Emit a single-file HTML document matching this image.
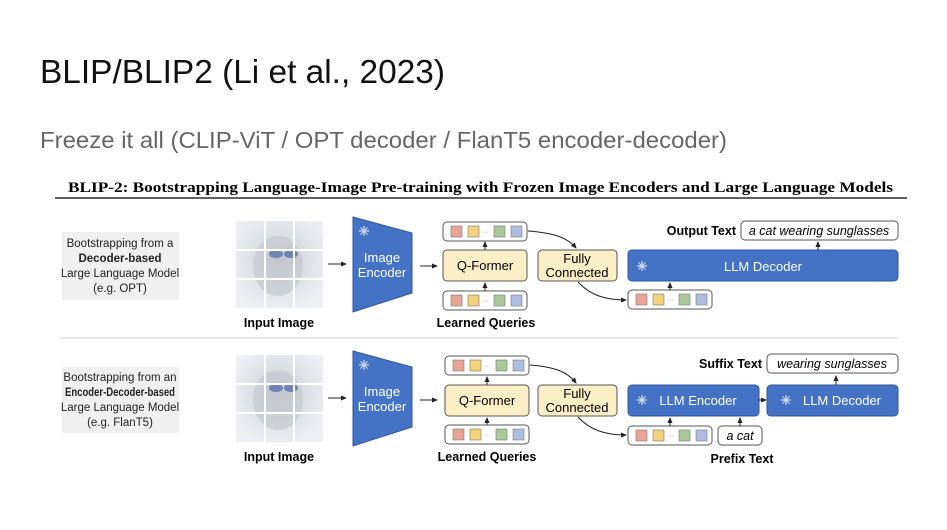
<!DOCTYPE html>
<html><head><meta charset="utf-8"><style>
body{margin:0;background:#fff;width:947px;height:525px;overflow:hidden;font-family:"Liberation Sans",sans-serif}
</style></head><body>
<svg width="947" height="525" viewBox="0 0 947 525" xmlns="http://www.w3.org/2000/svg" font-family="Liberation Sans, sans-serif">
<defs>
<radialGradient id="cat" cx="0.5" cy="0.45" r="0.6"><stop offset="0" stop-color="#b9bcc4"/><stop offset="0.45" stop-color="#d9dce2"/><stop offset="1" stop-color="#eef0f4"/></radialGradient>
<marker id="ah" markerWidth="6" markerHeight="6" refX="5" refY="3" orient="auto"><path d="M0,0.5 L6,3 L0,5.5z" fill="#222"/></marker>
<g id="tok"><rect x="0" y="0" width="84" height="19" rx="4" fill="#fff" stroke="#555"/>
<rect x="8" y="4" width="11" height="11" fill="#e9a593" stroke="#777" stroke-width="0.6"/>
<rect x="25" y="4" width="11" height="11" fill="#f2d27a" stroke="#777" stroke-width="0.6"/>
<text x="39" y="12" font-size="7" fill="#888">···</text>
<rect x="51" y="4" width="11" height="11" fill="#a9c99a" stroke="#777" stroke-width="0.6"/>
<rect x="68" y="4" width="11" height="11" fill="#aebde0" stroke="#777" stroke-width="0.6"/></g>
<g id="img"><rect x="0" y="0" width="87" height="87" fill="url(#cat)"/>
<ellipse cx="42" cy="45" rx="25" ry="30" fill="#c6c9d0" opacity="0.7"/>
<ellipse cx="40" cy="33" rx="7" ry="4" fill="#6f86b5"/><ellipse cx="55" cy="33" rx="7" ry="4" fill="#6f86b5"/>
<path d="M29,0V87M58,0V87M0,29H87M0,58H87" stroke="#fff" stroke-width="2"/></g>
<g id="snow" stroke="#cfdaf0" stroke-width="1.2"><path d="M-5,0H5M0,-5V5M-3.5,-3.5L3.5,3.5M-3.5,3.5L3.5,-3.5"/></g>
</defs>
<text x="40" y="83" font-size="33" fill="#111" textLength="405" lengthAdjust="spacingAndGlyphs">BLIP/BLIP2 (Li et al., 2023)</text>
<text x="40" y="148" font-size="23.5" fill="#666" textLength="687" lengthAdjust="spacingAndGlyphs">Freeze it all (CLIP-ViT / OPT decoder / FlanT5 encoder-decoder)</text>
<text x="68" y="192" font-size="15" font-weight="bold" font-family="Liberation Serif, serif" fill="#000" textLength="825" lengthAdjust="spacingAndGlyphs">BLIP-2: Bootstrapping Language-Image Pre-training with Frozen Image Encoders and Large Language Models</text>
<line x1="55" y1="198" x2="907" y2="198" stroke="#000" stroke-width="1.3"/>

<!-- Row 1 -->
<rect x="62" y="232" width="117" height="68" fill="#f0f0f0"/>
<g font-size="11.5" text-anchor="middle" fill="#222"><text x="120" y="247">Bootstrapping from a</text><text x="120" y="262" font-weight="bold">Decoder-based</text><text x="120" y="277">Large Language Model</text><text x="120" y="292">(e.g. OPT)</text></g>
<use href="#img" x="236" y="221"/>
<text x="279" y="327" font-size="12.5" font-weight="bold" text-anchor="middle">Input Image</text>
<line x1="328" y1="264" x2="346" y2="264" stroke="#222" marker-end="url(#ah)"/>
<path d="M353,217 L412,233 L412,293 L353,312Z" fill="#4472c4" stroke="#2f56a0"/>
<use href="#snow" x="364" y="231"/>
<text x="382" y="262" font-size="13" fill="#fff" text-anchor="middle">Image</text><text x="382" y="277" font-size="13" fill="#fff" text-anchor="middle">Encoder</text>
<line x1="420" y1="266" x2="437" y2="266" stroke="#222" marker-end="url(#ah)"/>
<use href="#tok" x="443" y="222"/>
<line x1="485" y1="250" x2="485" y2="242" stroke="#222" marker-end="url(#ah)"/>
<rect x="443" y="250" width="84" height="31" rx="4" fill="#fcefc8" stroke="#555"/>
<text x="485" y="270" font-size="13" text-anchor="middle">Q-Former</text>
<line x1="485" y1="291" x2="485" y2="283" stroke="#222" marker-end="url(#ah)"/>
<use href="#tok" x="443" y="291"/>
<text x="486" y="327" font-size="12.5" font-weight="bold" text-anchor="middle">Learned Queries</text>
<rect x="538" y="250" width="79" height="31" rx="4" fill="#fcefc8" stroke="#555"/>
<text x="577" y="263" font-size="13" text-anchor="middle">Fully</text><text x="577" y="277" font-size="13" text-anchor="middle">Connected</text>
<path d="M528,231 C555,233 568,238 576,248" fill="none" stroke="#222" marker-end="url(#ah)"/>
<path d="M578,282 C590,295 605,300 626,300" fill="none" stroke="#222" marker-end="url(#ah)"/>
<rect x="628" y="250" width="270" height="31" rx="4" fill="#4472c4" stroke="#2f56a0"/>
<use href="#snow" x="642" y="266"/>
<text x="763" y="271" font-size="13" fill="#fff" text-anchor="middle">LLM Decoder</text>
<use href="#tok" x="628" y="290"/>
<line x1="670" y1="290" x2="670" y2="283" stroke="#222" marker-end="url(#ah)"/>
<line x1="818" y1="250" x2="818" y2="242" stroke="#222" marker-end="url(#ah)"/>
<rect x="741" y="221" width="157" height="19" rx="4" fill="#fff" stroke="#555"/>
<text x="819" y="235" font-size="12.5" font-style="italic" text-anchor="middle">a cat wearing sunglasses</text>
<text x="736" y="235" font-size="12.5" font-weight="bold" text-anchor="end">Output Text</text>

<line x1="60" y1="338" x2="898" y2="338" stroke="#e4e4e4" stroke-width="1.5"/>

<!-- Row 2 -->
<rect x="62" y="367" width="117" height="66" fill="#f0f0f0"/>
<g font-size="11.5" text-anchor="middle" fill="#222"><text x="120" y="381">Bootstrapping from an</text><text x="120" y="396" font-weight="bold" textLength="110" lengthAdjust="spacingAndGlyphs">Encoder-Decoder-based</text><text x="120" y="411">Large Language Model</text><text x="120" y="426">(e.g. FlanT5)</text></g>
<use href="#img" x="236" y="355"/>
<text x="279" y="461" font-size="12.5" font-weight="bold" text-anchor="middle">Input Image</text>
<line x1="328" y1="398" x2="346" y2="398" stroke="#222" marker-end="url(#ah)"/>
<path d="M353,351 L412,367 L412,427 L353,446Z" fill="#4472c4" stroke="#2f56a0"/>
<use href="#snow" x="364" y="365"/>
<text x="382" y="396" font-size="13" fill="#fff" text-anchor="middle">Image</text><text x="382" y="411" font-size="13" fill="#fff" text-anchor="middle">Encoder</text>
<line x1="420" y1="400" x2="437" y2="400" stroke="#222" marker-end="url(#ah)"/>
<use href="#tok" x="445" y="356"/>
<line x1="487" y1="385" x2="487" y2="377" stroke="#222" marker-end="url(#ah)"/>
<rect x="445" y="385" width="84" height="31" rx="4" fill="#fcefc8" stroke="#555"/>
<text x="487" y="405" font-size="13" text-anchor="middle">Q-Former</text>
<line x1="487" y1="425" x2="487" y2="418" stroke="#222" marker-end="url(#ah)"/>
<use href="#tok" x="445" y="425"/>
<text x="487" y="461" font-size="12.5" font-weight="bold" text-anchor="middle">Learned Queries</text>
<rect x="538" y="385" width="79" height="31" rx="4" fill="#fcefc8" stroke="#555"/>
<text x="577" y="398" font-size="13" text-anchor="middle">Fully</text><text x="577" y="412" font-size="13" text-anchor="middle">Connected</text>
<path d="M530,365 C555,367 568,372 576,383" fill="none" stroke="#222" marker-end="url(#ah)"/>
<path d="M578,417 C590,430 605,435 626,435" fill="none" stroke="#222" marker-end="url(#ah)"/>
<rect x="628" y="385" width="131" height="31" rx="4" fill="#4472c4" stroke="#2f56a0"/>
<use href="#snow" x="642" y="400"/>
<text x="698" y="405" font-size="13" fill="#fff" text-anchor="middle">LLM Encoder</text>
<line x1="759" y1="400" x2="766" y2="400" stroke="#222" marker-end="url(#ah)"/>
<rect x="767" y="385" width="131" height="31" rx="4" fill="#4472c4" stroke="#2f56a0"/>
<use href="#snow" x="786" y="400"/>
<text x="842" y="405" font-size="13" fill="#fff" text-anchor="middle">LLM Decoder</text>
<use href="#tok" x="628" y="426"/>
<line x1="670" y1="426" x2="670" y2="418" stroke="#222" marker-end="url(#ah)"/>
<rect x="718" y="426" width="44" height="19" rx="4" fill="#fff" stroke="#555"/>
<text x="740" y="440" font-size="12.5" font-style="italic" text-anchor="middle">a cat</text>
<line x1="740" y1="426" x2="740" y2="418" stroke="#222" marker-end="url(#ah)"/>
<text x="742" y="463" font-size="12.5" font-weight="bold" text-anchor="middle">Prefix Text</text>
<line x1="836" y1="385" x2="836" y2="376" stroke="#222" marker-end="url(#ah)"/>
<rect x="767" y="354" width="131" height="19" rx="4" fill="#fff" stroke="#555"/>
<text x="832" y="368" font-size="12.5" font-style="italic" text-anchor="middle">wearing sunglasses</text>
<text x="762" y="368" font-size="12.5" font-weight="bold" text-anchor="end">Suffix Text</text>
</svg>
</body></html>
